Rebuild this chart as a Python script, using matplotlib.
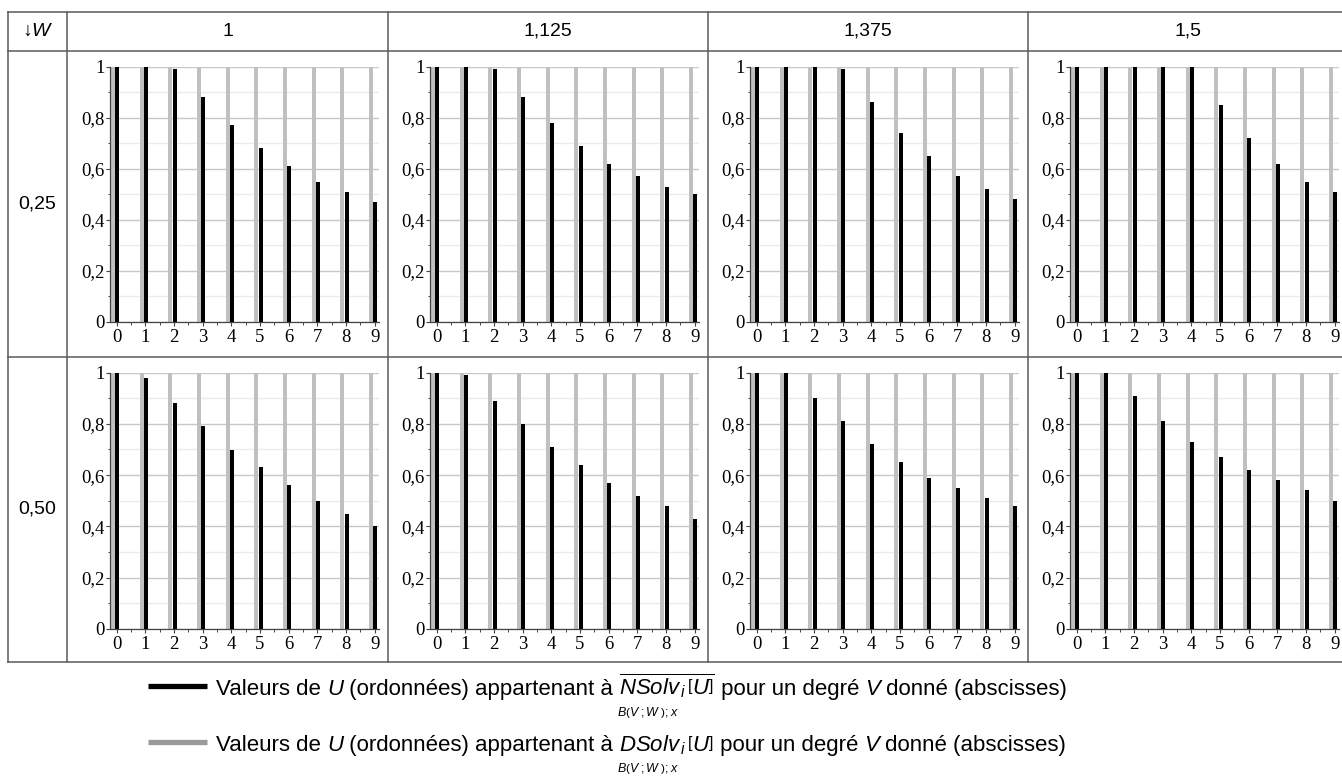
import matplotlib
matplotlib.use('Agg')
import matplotlib.pyplot as plt
from matplotlib.ticker import MultipleLocator, FixedLocator, FuncFormatter
from matplotlib.lines import Line2D

# ---------------- data ----------------
col_labels = ['1', '1,125', '1,375', '1,5']          # W values (columns)
row_labels = ['0,25', '0,50']                        # rows
degrees = [0, 1, 2, 3, 4, 5, 6, 7, 8, 9]             # V (abscissa)
dsolv = [1, 1, 1, 1, 1, 1, 1, 1, 1, 1]               # grey bars

nsolv_025_1 = [1, 1, 0.99, 0.88, 0.77, 0.68, 0.61, 0.55, 0.51, 0.47]
nsolv_025_1125 = [1, 1, 0.99, 0.88, 0.78, 0.69, 0.62, 0.57, 0.53, 0.50]
nsolv_025_1375 = [1, 1, 1, 0.99, 0.86, 0.74, 0.65, 0.57, 0.52, 0.48]
nsolv_025_15 = [1, 1, 1, 1, 1, 0.85, 0.72, 0.62, 0.55, 0.51]
nsolv_050_1 = [1, 0.98, 0.88, 0.79, 0.70, 0.63, 0.56, 0.50, 0.45, 0.40]
nsolv_050_1125 = [1, 0.99, 0.89, 0.80, 0.71, 0.64, 0.57, 0.52, 0.48, 0.43]
nsolv_050_1375 = [1, 1, 0.90, 0.81, 0.72, 0.65, 0.59, 0.55, 0.51, 0.48]
nsolv_050_15 = [1, 1, 0.91, 0.81, 0.73, 0.67, 0.62, 0.58, 0.54, 0.50]

nsolv = [[nsolv_025_1, nsolv_025_1125, nsolv_025_1375, nsolv_025_15],
         [nsolv_050_1, nsolv_050_1125, nsolv_050_1375, nsolv_050_15]]

# ---------------- style ----------------
plt.rcParams['mathtext.fontset'] = 'custom'
plt.rcParams['mathtext.rm'] = 'Liberation Sans'
plt.rcParams['mathtext.it'] = 'Liberation Sans:italic'
plt.rcParams['mathtext.bf'] = 'Liberation Sans:bold'

W, H = 1342, 784
fig = plt.figure(figsize=(W / 100, H / 100), dpi=100)
fig.patch.set_facecolor('white')


def fx(x):
    return x / W


def fy(y):
    return 1 - y / H


# ---------------- table frame ----------------
tbl_color = '#5a5a5a'
tbl_lw = 1.1
y_top, y_head, y_mid, y_bot = 12, 51, 357, 662
x_cols = [8, 67, 388, 708, 1028]
for yy in (y_top, y_head, y_mid, y_bot):
    fig.add_artist(Line2D([fx(8), fx(W + 5)], [fy(yy), fy(yy)], color=tbl_color, lw=tbl_lw))
for xx in x_cols:
    fig.add_artist(Line2D([fx(xx), fx(xx)], [fy(y_top), fy(y_bot)], color=tbl_color, lw=tbl_lw))

sans = ['Liberation Sans', 'DejaVu Sans']
head_fs = 14
fig.text(fx(37.5), fy(31.5), '↓$W$', ha='center', va='center', fontsize=head_fs, family=sans)
for c, lab in enumerate(col_labels):
    xc = (x_cols[c + 1] + (x_cols[c + 2] if c + 2 < len(x_cols) else 1348)) / 2
    fig.text(fx(xc), fy(31.5), lab, ha='center', va='center', fontsize=head_fs, family=sans)
for r, lab in enumerate(row_labels):
    yc = [204, 509][r]
    fig.text(fx(37.5), fy(yc), lab, ha='center', va='center', fontsize=head_fs, family=sans)

# ---------------- panels ----------------
ax_w = 269
row_ax = [(66.7, 322.0), (372.7, 628.7)]
bw = 0.14


def yfmt(v, pos):
    if abs(v) < 1e-9:
        return '0'
    if abs(v - 1) < 1e-9:
        return '1'
    return ('%.1f' % v).replace('.', ',')


for r in range(2):
    ytop, ybot = row_ax[r]
    for c in range(4):
        left = 110 + 320 * c
        ax = fig.add_axes([fx(left), fy(ybot), ax_w / W, (ybot - ytop) / H])
        xs = degrees
        ax.bar([x - 0.13 for x in xs], dsolv, width=bw, color='#c0c0c0', zorder=2, linewidth=0)
        ax.bar([x + 0.02 for x in xs], nsolv[r][c], width=bw, color='black', zorder=3, linewidth=0)
        ax.set_xlim(-0.23, 9.15)
        ax.set_ylim(0, 1)
        ax.xaxis.set_major_locator(FixedLocator(degrees))
        ax.xaxis.set_minor_locator(MultipleLocator(0.5))
        ax.yaxis.set_major_locator(MultipleLocator(0.2))
        ax.yaxis.set_minor_locator(MultipleLocator(0.1))
        ax.yaxis.set_major_formatter(FuncFormatter(yfmt))
        ax.yaxis.grid(True, which='major', color='#c8c8c8', lw=1.0, zorder=0)
        ax.yaxis.grid(True, which='minor', color='#ebebeb', lw=1.0, zorder=0)
        ax.set_axisbelow(True)
        for s in ('top', 'right'):
            ax.spines[s].set_visible(False)
        for s in ('left', 'bottom'):
            ax.spines[s].set_color('#444444')
            ax.spines[s].set_linewidth(0.9)
        ax.tick_params(axis='both', which='major', direction='out', length=3.0, width=0.8,
                       color='#444444', labelsize=13.5)
        ax.tick_params(axis='both', which='minor', direction='out', length=1.8, width=0.7,
                       color='#444444')
        ax.tick_params(axis='y', which='major', pad=1)
        ax.tick_params(axis='x', which='major', pad=2)
        for lbl in ax.get_xticklabels() + ax.get_yticklabels():
            lbl.set_family('Liberation Serif')
        ax.patch.set_alpha(0)

# ---------------- legend ----------------
renderer = fig.canvas.get_renderer()
leg_fs = 16


def draw_line_text(pieces, x0, ybase):
    x = x0
    out = []
    for txt, style in pieces:
        t = fig.text(fx(x), fy(ybase), txt, ha='left', va='baseline', fontsize=leg_fs,
                     family=sans, style=style)
        bb = t.get_window_extent(renderer)
        out.append(bb)
        x = bb.x1
    return out


fig.add_artist(Line2D([fx(148), fx(207)], [fy(686), fy(686)], color='black', lw=3.8,
                      solid_capstyle='butt'))
fig.add_artist(Line2D([fx(148), fx(207)], [fy(742), fy(742)], color='#9a9a9a', lw=3.8,
                      solid_capstyle='butt'))

line1 = [('Valeurs de ', 'normal'), ('U', 'italic'), (' (ordonnées) appartenant à ', 'normal'),
         (r'$\overline{NSolv_{\,i}\,\left[U\right]}$', 'normal'),
         (' pour un degré ', 'normal'), ('V', 'italic'), (' donné (abscisses)', 'normal')]
line2 = [('Valeurs de ', 'normal'), ('U', 'italic'), (' (ordonnées) appartenant à ', 'normal'),
         (r'$DSolv_{\,i}\,\left[U\right]$', 'normal'),
         (' pour un degré ', 'normal'), ('V', 'italic'), (' donné (abscisses)', 'normal')]

for pieces, yb, ysub in ((line1, 695, 712), (line2, 751, 768)):
    bbs = draw_line_text(pieces, 216, yb)
    mb = bbs[3]
    fig.text(fx(mb.x0 - 2), fy(ysub), r'$B\left(V\;;W\;\right);x$', ha='left', va='center',
             fontsize=9, family=sans)

fig.savefig('out.png', dpi=100, facecolor='white')
